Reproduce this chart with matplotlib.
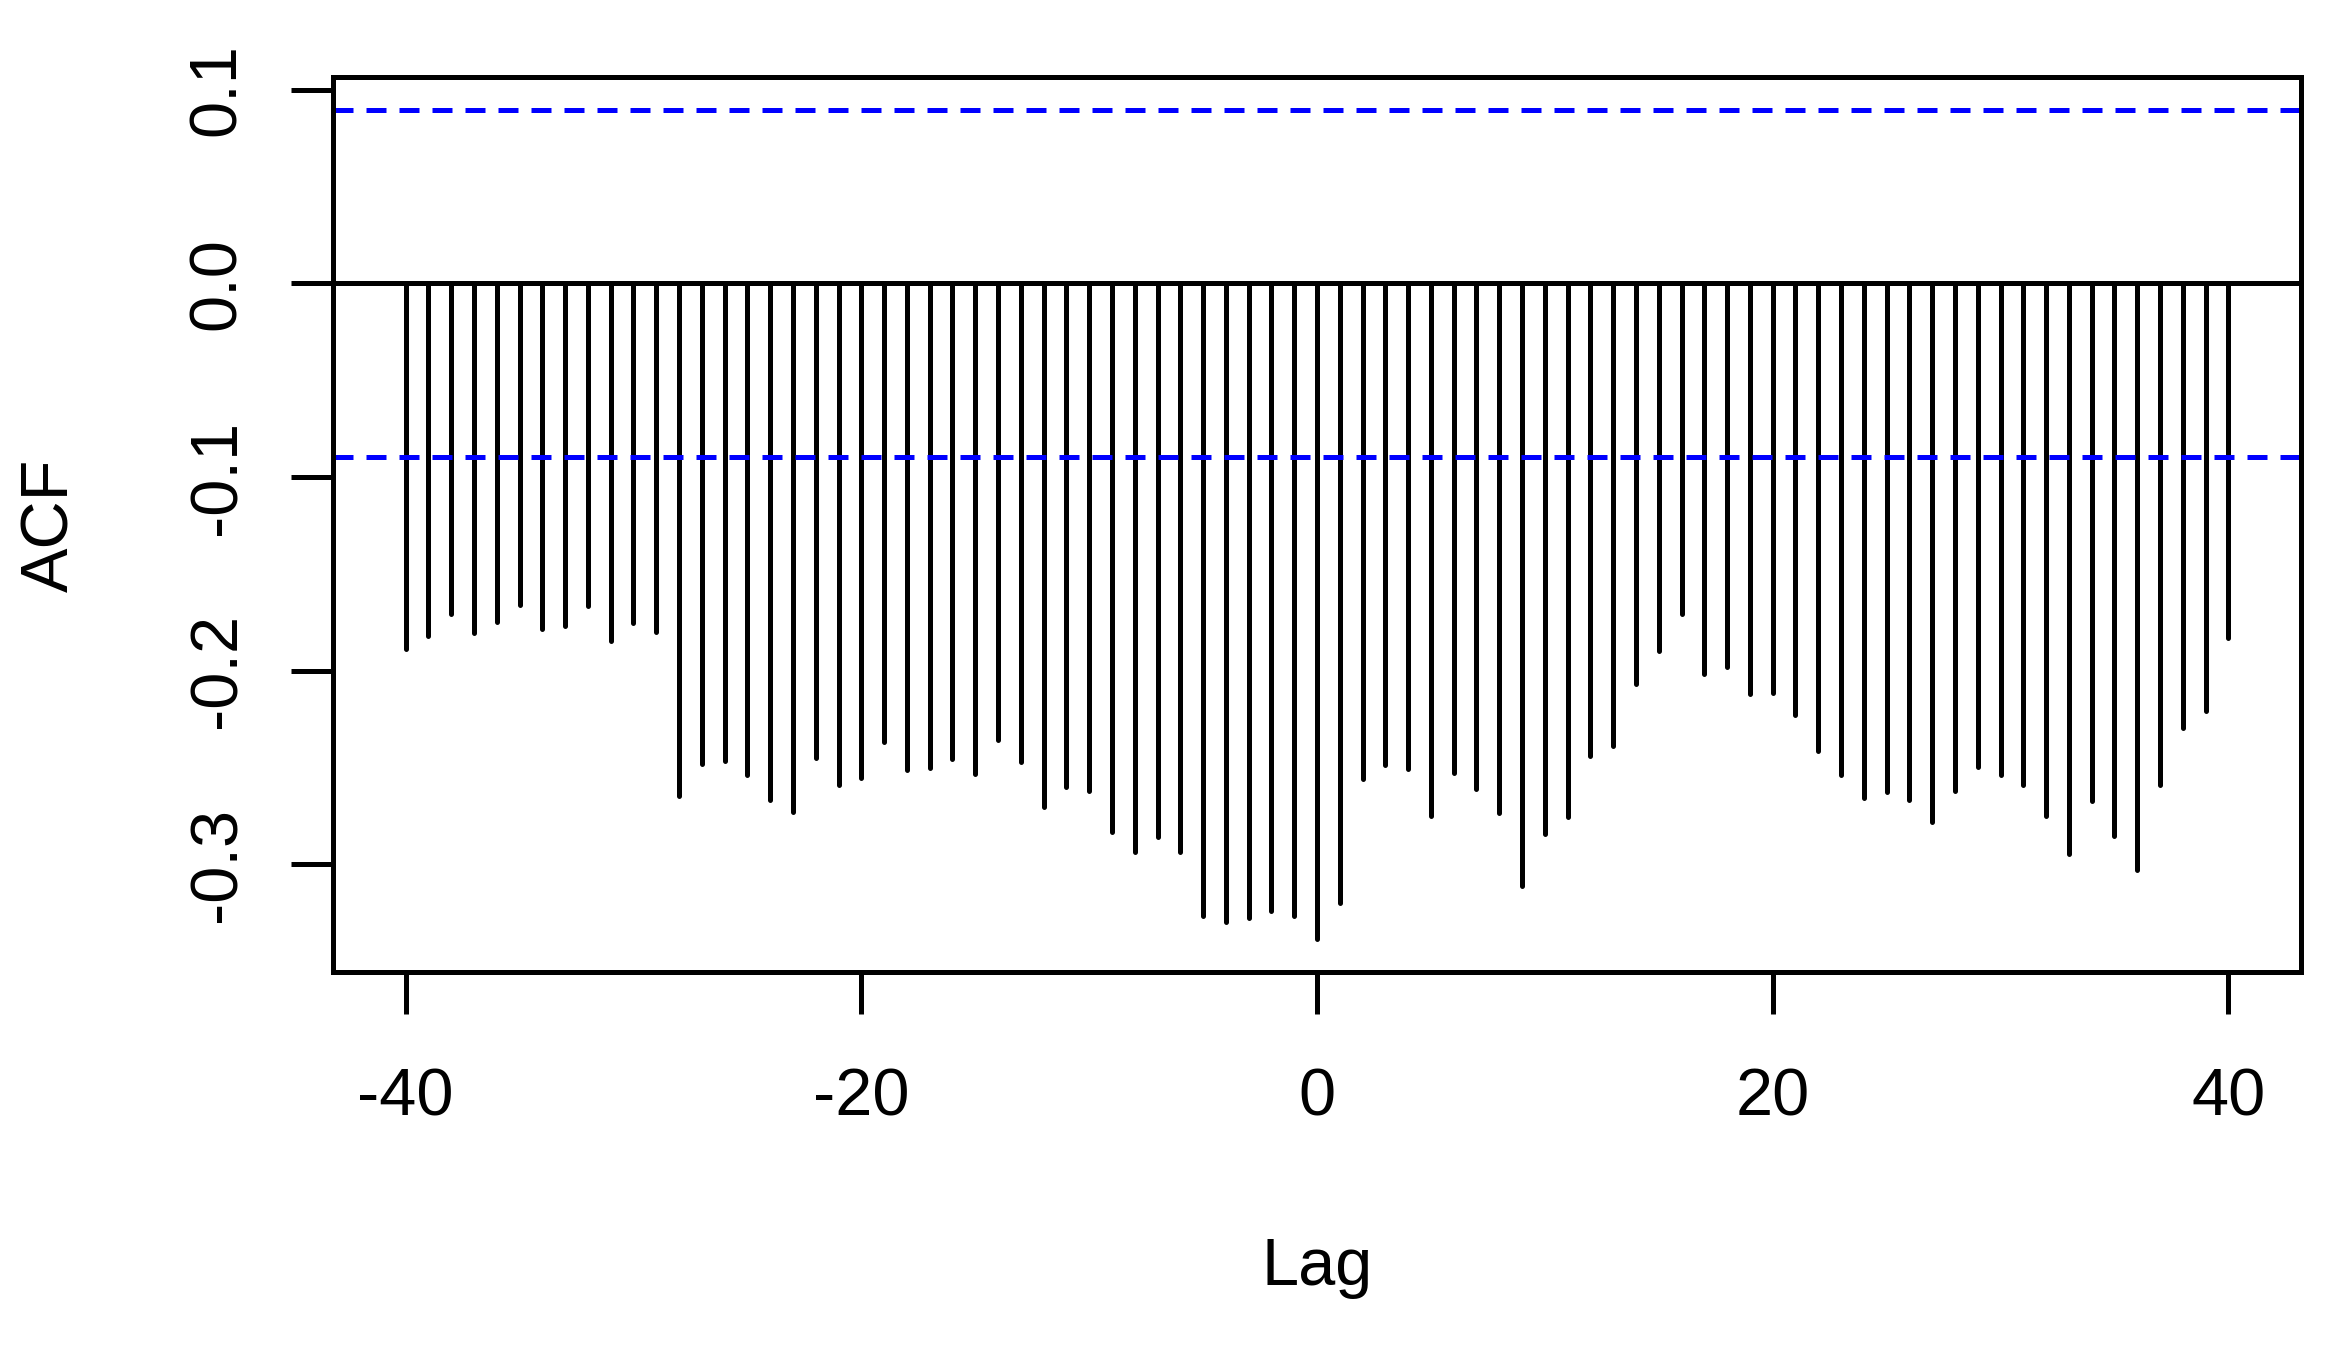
import matplotlib
matplotlib.use('Agg')
import matplotlib.pyplot as plt

lags = list(range(-40, 41))
acf = [-0.1890, -0.1821, -0.1709, -0.1804, -0.1747, -0.1659, -0.1785, -0.1769,
       -0.1668, -0.1845, -0.1754, -0.1799, -0.2647, -0.2482, -0.2466, -0.2540,
       -0.2668, -0.2731, -0.2451, -0.2590, -0.2556, -0.2368, -0.2514, -0.2502,
       -0.2454, -0.2535, -0.2358, -0.2473, -0.2704, -0.2602, -0.2621, -0.2834,
       -0.2936, -0.2857, -0.2934, -0.3266, -0.3299, -0.3277, -0.3241, -0.3268,
       -0.3385, -0.3201, -0.2559, -0.2487, -0.2507, -0.2750, -0.2530, -0.2611,
       -0.2735, -0.3111, -0.2843, -0.2757, -0.2440, -0.2389, -0.2069, -0.1900,
       -0.1709, -0.2015, -0.1981, -0.2119, -0.2115, -0.2229, -0.2415, -0.2541,
       -0.2656, -0.2626, -0.2666, -0.2783, -0.2623, -0.2496, -0.2538, -0.2590,
       -0.2750, -0.2945, -0.2671, -0.2853, -0.3029, -0.2590, -0.2296, -0.2206,
       -0.1833]
ci = 0.0895
xticks = [-40, -20, 0, 20, 40]
xticklabels = ['-40', '-20', '0', '20', '40']
yticks = [-0.3, -0.2, -0.1, 0.0, 0.1]
yticklabels = ['-0.3', '-0.2', '-0.1', '0.0', '0.1']

plt.rcParams['font.family'] = ['Liberation Sans', 'DejaVu Sans']
W, H = 2346, 1347
LW = 1.2
fig = plt.figure(figsize=(W / 300, H / 300), dpi=300)
ax = fig.add_axes([332.7 / W, 1 - 971.7 / H, (2301.3 - 332.7) / W, (971.7 - 77.3) / H])

vl = ax.vlines(lags, 0, acf, colors='black', linewidth=LW)
vl.set_capstyle('round')
ax.axhline(0, color='black', linewidth=LW)
for v in (ci, -ci):
    ax.axhline(v, color='#0000FF', linewidth=LW, linestyle=(0, (4, 2.6)))

ax.set_xlim(-43.2, 43.2)
ax.set_ylim(-0.3554, 0.1063)
ax.set_xticks(xticks)
ax.set_xticklabels(xticklabels, fontsize=16)
ax.set_yticks(yticks)
ax.set_yticklabels(yticklabels, fontsize=16, rotation=90, va='center')
ax.tick_params(axis='both', direction='out', length=10, width=LW, color='black')
ax.tick_params(axis='x', pad=13)
ax.tick_params(axis='y', pad=10)
for s in ax.spines.values():
    s.set_linewidth(LW)
    s.set_color('black')

fig.text(1317 / W, 1 - 1285 / H, 'Lag', ha='center', va='baseline', fontsize=16)
fig.text(68 / W, 1 - 525 / H, 'ACF', ha='center', va='baseline', rotation=90,
         rotation_mode='anchor', fontsize=16)

fig.savefig('out.png', dpi=300, facecolor='white')
